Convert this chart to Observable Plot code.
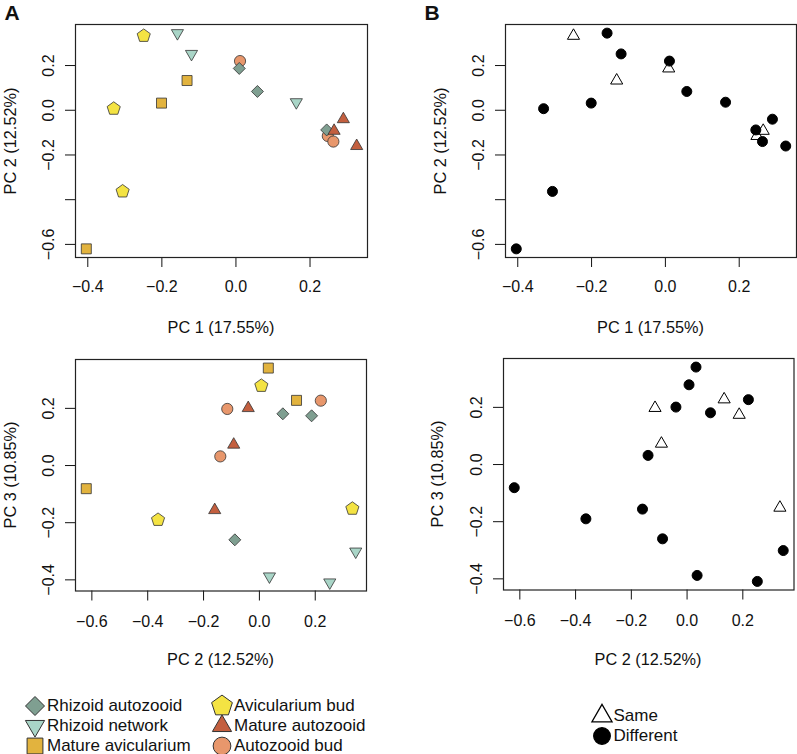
<!DOCTYPE html>
<html><head><meta charset="utf-8">
<script src="https://cdn.jsdelivr.net/npm/d3@7"></script>
<script src="https://cdn.jsdelivr.net/npm/@observablehq/plot@0.6"></script>
<style>
html,body{margin:0;padding:0;background:#fff;}
#wrap{position:relative;width:797px;height:754px;overflow:hidden;font-family:"Liberation Sans",Arial,Helvetica,sans-serif;color:#111;}
.t{position:absolute;font-size:16.3px;line-height:16px;white-space:nowrap;transform:translate(-50%,-50%);}
.ty{transform:translate(-50%,-50%) rotate(-90deg);}
.lab{position:absolute;font-size:21px;line-height:21px;font-weight:bold;}
.lega-swatches,.legb-swatches{position:absolute;display:grid !important;grid-auto-flow:column;margin:0 !important;min-height:0 !important;font-family:"Liberation Sans",Arial,Helvetica,sans-serif !important;font-size:17px !important;color:#111;}
.lega-swatches{grid-template-columns:187px auto;grid-template-rows:repeat(3,20px);left:24.5px;top:696px;}
.legb-swatches{grid-template-columns:auto;grid-template-rows:repeat(2,20px);left:592px;top:706px;}
.lega-swatch,.legb-swatch{display:flex !important;align-items:center;margin:0 !important;height:20px;white-space:nowrap;}
.lega-swatch > svg{margin-right:2.5px !important;}
.legb-swatch > svg{margin-right:1.5px !important;}
</style></head>
<body><div id="wrap"></div>
<script>
// ---------- data ----------
const groupNames = ["Rhizoid autozooid","Rhizoid network","Mature avicularium","Avicularium bud","Mature autozooid","Autozooid bud"];
const groupColors = ["#7f9f91","#a9d5c7","#e2b33e","#f4e343","#c35f3f","#e8976c"];
const matchNames = ["Same","Different"];
const matchColors = ["none","#000000"];

const sampleGroup = [
  "Autozooid bud","Autozooid bud","Autozooid bud",
  "Rhizoid autozooid","Rhizoid autozooid","Rhizoid autozooid",
  "Mature autozooid","Mature autozooid","Mature autozooid",
  "Avicularium bud","Avicularium bud","Avicularium bud",
  "Mature avicularium","Mature avicularium","Mature avicularium",
  "Rhizoid network","Rhizoid network","Rhizoid network"
];
const sampleMatch = [
  "Different","Same","Different",
  "Same","Different","Different",
  "Different","Same","Different",
  "Same","Different","Different",
  "Same","Different","Different",
  "Different","Different","Different"
];
const pc1 = [0.011,0.248,0.263, 0.009,0.058,0.245, 0.290,0.265,0.326, -0.249,-0.330,-0.306, -0.132,-0.201,-0.404, -0.158,-0.120,0.163];
const pc2 = [0.220,-0.115,-0.140, 0.187,0.084,-0.088, -0.040,-0.092,-0.160, 0.333,0.007,-0.363, 0.133,0.032,-0.620, 0.345,0.252,0.036];
const pc3 = [0.227,0.198,0.032, 0.174,0.181,-0.260, 0.201,0.073,-0.156, -0.151,0.279,-0.190, 0.228,0.341,-0.081, -0.301,-0.409,-0.388];

const pc1Ticks = [-0.4,-0.2,0,0.2];
const pc1TickLabels = ["−0.4","−0.2","0.0","0.2"];
const pc2Ticks = [-0.6,-0.4,-0.2,0,0.2];
const pc2TickLabels = ["−0.6","−0.4","−0.2","0.0","0.2"];
const pc2TickLabelsVertical = ["−0.6","","−0.2","0.0","0.2"];
const pc3Ticks = [-0.4,-0.2,0,0.2];
const pc3TickLabels = ["−0.4","−0.2","0.0","0.2"];
const axisTitles = {pc1: "PC 1 (17.55%)", pc2: "PC 2 (12.52%)", pc3: "PC 3 (10.85%)"};
const panelLetters = ["A","B"];

const data = sampleGroup.map((g, i) => ({group: g, match: sampleMatch[i], pc1: pc1[i], pc2: pc2[i], pc3: pc3[i]}));

// ---------- symbols ----------
const FONT = '"Liberation Sans", Arial, Helvetica, sans-serif';
const S = f => ({draw(ctx, size) { const k = Math.sqrt(size / Math.PI) / 6; f(ctx, k); }});
const poly = (ctx, pts) => { ctx.moveTo(pts[0][0], pts[0][1]); for (let i = 1; i < pts.length; i++) ctx.lineTo(pts[i][0], pts[i][1]); ctx.closePath(); };
const regular = (n, R, rot) => d3.range(n).map(i => { const a = rot + 2 * Math.PI * i / n; return [R * Math.cos(a), R * Math.sin(a)]; });
const circ = rr => S((c, k) => { const r = rr * k; c.moveTo(r, 0); c.arc(0, 0, r, 0, 2 * Math.PI); c.closePath(); });
const symDiamond = S((c, k) => poly(c, regular(4, 6 * k, -Math.PI / 2)));
const symSquare = S((c, k) => poly(c, regular(4, 5 * Math.SQRT2 * k, -Math.PI / 4)));
const symTriUp = S((c, k) => poly(c, regular(3, 7 * k, -Math.PI / 2)));
const symTriDown = S((c, k) => poly(c, regular(3, 7 * k, Math.PI / 2)));
const symPentagon = S((c, k) => poly(c, regular(5, 6.9 * k, -Math.PI / 2)));
const symCircle = circ(5.6);
const symDot = circ(5);
const groupSymbols = [symDiamond, symTriDown, symSquare, symPentagon, symTriUp, symCircle];
const matchSymbols = [symTriUp, symDot];

const pad = v => { const [a, b] = d3.extent(v); const p = (b - a) * 0.04; return [a - p, b + p]; };

function panel(o) {
  return Plot.plot({
    width: o.w, height: o.h,
    marginLeft: o.ml, marginRight: o.mr, marginTop: o.mt, marginBottom: o.mb,
    x: {domain: pad(data.map(d => d[o.xKey])), label: null},
    y: {domain: pad(data.map(d => d[o.yKey])), label: null},
    symbol: {domain: o.symDomain, range: o.symRange},
    color: {domain: o.symDomain, range: o.colRange},
    style: {position: "absolute", left: o.left + "px", top: o.top + "px", fontFamily: FONT, fontSize: "16px", color: "#111", background: "transparent", overflow: "visible"},
    marks: [
      Plot.axisX({ticks: o.xTicks, tickFormat: d => o.xLabels[o.xTicks.indexOf(d)], tickSize: 10, tickPadding: o.xPad, label: null}),
      Plot.axisY({ticks: o.yTicks, tickFormat: d => o.yLabels[o.yTicks.indexOf(d)], tickSize: 10, tickPadding: o.yPad, tickRotate: -90, label: null}),
      Plot.frame({stroke: "#222", strokeWidth: 1.2}),
      Plot.dot(data, {x: o.xKey, y: o.yKey, symbol: o.symKey, fill: o.symKey, stroke: o.stroke, strokeWidth: o.sw, r: 6})
    ]
  });
}

const wrap = document.getElementById("wrap");
const A = {symKey: "group", symDomain: groupNames, symRange: groupSymbols, colRange: groupColors, stroke: "#333", sw: 0.8};
const B = {symKey: "match", symDomain: matchNames, symRange: matchSymbols, colRange: matchColors, stroke: "#000", sw: 1};
const top12 = {xKey: "pc1", yKey: "pc2", xTicks: pc1Ticks, xLabels: pc1TickLabels, yTicks: pc2Ticks, yLabels: pc2TickLabelsVertical, h: 300, mt: 24, mb: 43, top: 0, xPad: 13, yPad: 12};
const bot12 = {xKey: "pc2", yKey: "pc3", xTicks: pc2Ticks, xLabels: pc2TickLabels, yTicks: pc3Ticks, yLabels: pc3TickLabels, h: 380, top: 300, xPad: 15, yPad: 12};

const tl = panel({...A, ...top12, w: 400, left: 0, ml: 75, mr: 33});
const tr = panel({...B, ...top12, w: 397, left: 400, ml: 105, mr: 1});
const bl = panel({...A, ...bot12, w: 400, left: 0, ml: 75, mr: 34, mt: 59, mb: 89.5});
const br = panel({...B, ...bot12, w: 397, left: 400, ml: 103, mr: 3.5, mt: 58, mb: 90.5});
[tl, tr, bl, br].forEach(p => wrap.appendChild(p));

const titles = [
  [axisTitles.pc1, 221, 326.5, false],
  [axisTitles.pc2, 9.5, 140.5, true],
  [axisTitles.pc1, 650.5, 326.5, false],
  [axisTitles.pc2, 439.5, 140.5, true],
  [axisTitles.pc2, 220.5, 659, false],
  [axisTitles.pc3, 9.5, 475, true],
  [axisTitles.pc2, 648, 659, false],
  [axisTitles.pc3, 436.5, 474, true]
];
titles.forEach(([txt, x, y, rot]) => {
  const d = document.createElement("div");
  d.className = "t" + (rot ? " ty" : "");
  d.style.left = x + "px"; d.style.top = y + "px";
  d.textContent = txt;
  wrap.appendChild(d);
});
[[panelLetters[0], 4.5], [panelLetters[1], 424.5]].forEach(([txt, x]) => {
  const d = document.createElement("div");
  d.className = "lab"; d.style.left = x + "px"; d.style.top = "1.5px";
  d.textContent = txt; wrap.appendChild(d);
});

const legA = tl.legend("symbol", {className: "lega", swatchSize: 20, r: 7.6, strokeWidth: 0.8});
const legB = tr.legend("symbol", {className: "legb", swatchSize: 20, r: 8, strokeWidth: 1});
wrap.appendChild(legA);
wrap.appendChild(legB);
</script>
</body></html>
